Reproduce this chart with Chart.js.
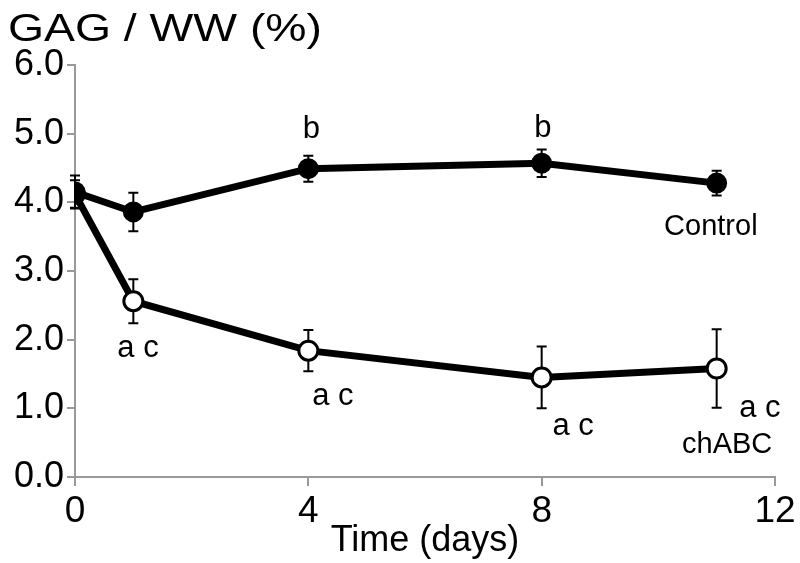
<!DOCTYPE html>
<html>
<head>
<meta charset="utf-8">
<script src="https://cdn.jsdelivr.net/npm/chart.js@4/dist/chart.umd.min.js"></script>
<style>
html,body{margin:0;padding:0;background:#fff;}
#wrap{width:800px;height:563px;position:relative;}
</style>
</head>
<body>
<div id="wrap"><canvas id="c" width="800" height="563"></canvas></div>
<script>
// ---- data ----
const days = [0, 1, 4, 8, 11];
const controlMean = [4.15, 3.86, 4.49, 4.57, 4.28];
const controlErr  = [0.24, 0.28, 0.19, 0.20, 0.18];
const chabcMean   = [4.12, 2.56, 1.84, 1.45, 1.58];
const chabcErr    = [0.20, 0.32, 0.30, 0.45, 0.57];
const xTicks = [0, 4, 8, 12];
const yTicks = [0, 1, 2, 3, 4, 5, 6];
const titleText = "GAG / WW (%)";
const xTitle = "Time (days)";
// annotation labels (text, data x, data y of baseline)
const annText = ["b", "b", "a c", "a c", "a c", "a c", "Control", "chABC"];
const annX    = [4.05, 8.02, 1.08, 4.42, 8.54, 11.74, 10.9, 11.18];
const annY    = [4.94, 4.95, 1.75, 1.05, 0.61, 0.87, 3.52, 0.35];
const annSize = [31, 31, 31, 31, 31, 31, 29, 29];

const FONT = "'Liberation Sans', Arial, sans-serif";

const errorBars = {
  id: 'errorBars',
  beforeDatasetsDraw(chart) {
    const ctx = chart.ctx, xs = chart.scales.x, ys = chart.scales.y;
    ctx.save();
    ctx.strokeStyle = '#000';
    ctx.lineWidth = 2;
    chart.data.datasets.forEach(ds => {
      ds.data.forEach((p, i) => {
        const e = ds.err[i];
        const px = xs.getPixelForValue(p.x);
        const top = ys.getPixelForValue(p.y + e);
        const bot = ys.getPixelForValue(p.y - e);
        ctx.beginPath();
        ctx.moveTo(px, top); ctx.lineTo(px, bot);
        ctx.moveTo(px - 5, top); ctx.lineTo(px + 5, top);
        ctx.moveTo(px - 5, bot); ctx.lineTo(px + 5, bot);
        ctx.stroke();
      });
    });
    ctx.restore();
  }
};

const textPlugin = {
  id: 'textPlugin',
  afterDraw(chart) {
    const ctx = chart.ctx, xs = chart.scales.x, ys = chart.scales.y;
    ctx.save();
    ctx.fillStyle = '#000';
    ctx.textBaseline = 'alphabetic';
    ctx.textAlign = 'center';
    annText.forEach((t, i) => {
      ctx.font = annSize[i] + 'px ' + FONT;
      ctx.fillText(t, xs.getPixelForValue(annX[i]), ys.getPixelForValue(annY[i]));
    });
    // title
    ctx.font = '39px ' + FONT;
    ctx.textAlign = 'left';
    const w = ctx.measureText(titleText).width;
    ctx.translate(8, 41);
    ctx.scale(314 / w, 1);
    ctx.fillText(titleText, 0, 0);
    ctx.restore();
  }
};

new Chart(document.getElementById('c'), {
  type: 'scatter',
  data: {
    datasets: [
      {
        label: 'Control',
        data: days.map((d, i) => ({x: d, y: controlMean[i]})),
        err: controlErr,
        showLine: true,
        borderColor: '#000',
        borderWidth: 7,
        pointRadius: 9.5,
        pointBackgroundColor: '#000',
        pointBorderColor: '#000',
        pointBorderWidth: 2
      },
      {
        label: 'chABC',
        data: days.map((d, i) => ({x: d, y: chabcMean[i]})),
        err: chabcErr,
        showLine: true,
        borderColor: '#000',
        borderWidth: 7,
        pointRadius: 9.5,
        pointBackgroundColor: '#fff',
        pointBorderColor: '#000',
        pointBorderWidth: 3
      }
    ]
  },
  options: {
    responsive: false,
    animation: false,
    devicePixelRatio: 1,
    layout: { padding: { top: 65, right: 25, left: 0, bottom: 0 } },
    plugins: { legend: { display: false }, tooltip: { enabled: false }, title: { display: false } },
    scales: {
      x: {
        type: 'linear', min: 0, max: 12,
        afterBuildTicks: s => { s.ticks = xTicks.map(v => ({value: v})); },
        afterFit: s => { s.height = 86; },
        grid: { drawOnChartArea: false, drawTicks: true, tickLength: 9, color: '#999', lineWidth: 2 },
        border: { color: '#999', width: 2 },
        ticks: { color: '#000', font: { family: FONT, size: 37 }, padding: 4, maxRotation: 0 },
        title: { display: true, text: xTitle, color: '#000', font: { family: FONT, size: 36 }, padding: { top: -18, bottom: 0 } }
      },
      y: {
        type: 'linear', min: 0, max: 6,
        afterBuildTicks: s => { s.ticks = yTicks.map(v => ({value: v})); },
        afterFit: s => { s.width = 75; },
        grid: { drawOnChartArea: false, drawTicks: true, tickLength: 8, color: '#999', lineWidth: 2 },
        border: { color: '#999', width: 2 },
        ticks: { color: '#000', font: { family: FONT, size: 36 }, padding: 3, callback: v => v.toFixed(1) }
      }
    }
  },
  plugins: [errorBars, textPlugin]
});
</script>
</body>
</html>
